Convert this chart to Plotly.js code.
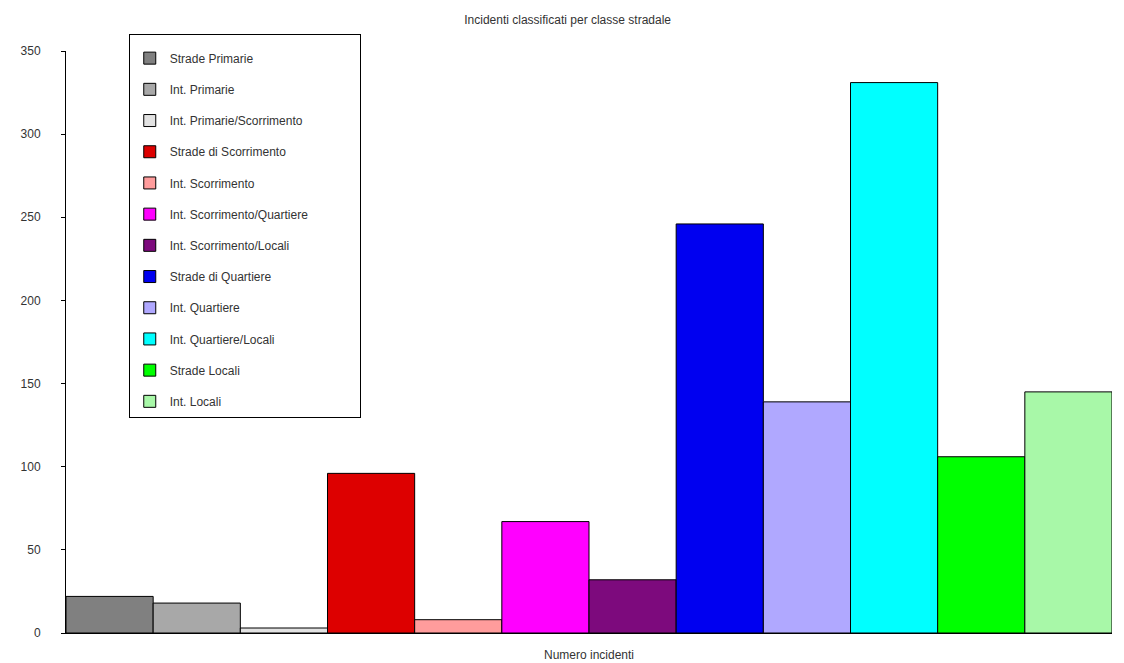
<!DOCTYPE html>
<html>
<head>
<meta charset="utf-8">
<script src="https://cdn.plot.ly/plotly-3.0.1.min.js"></script>
<style>
  html, body { margin: 0; padding: 0; background: #fff; }
  #chart { width: 1124px; height: 663px; }
</style>
</head>
<body>
<div id="chart"></div>
<script>
// Road classes, in drawing order
const categories = [
  'Strade Primarie',
  'Int. Primarie',
  'Int. Primarie/Scorrimento',
  'Strade di Scorrimento',
  'Int. Scorrimento',
  'Int. Scorrimento/Quartiere',
  'Int. Scorrimento/Locali',
  'Strade di Quartiere',
  'Int. Quartiere',
  'Int. Quartiere/Locali',
  'Strade Locali',
  'Int. Locali'
];

// Number of accidents per road class
const incidenti = [22, 18, 3, 96, 8, 67, 32, 246, 139, 331, 106, 145];

// Fill colour per road class
const colori = [
  '#808080', '#a8a8a8', '#e2e2e2', '#dd0000',
  '#ff9c9c', '#ff00ff', '#7d0a7d', '#0000f0',
  '#b0a8ff', '#00ffff', '#00ff00', '#a8f8a8'
];

const yTicks = [0, 50, 100, 150, 200, 250, 300, 350];

const FONT = 'Liberation Sans, Arial, sans-serif';
const TEXT = '#333333';

// Blank legend heading: only pads the legend box (top space and width)
const legendPad = '\u00a0'.repeat(116);

// One trace per class so each gets its own legend entry
const traces = categories.map((name, i) => ({
  type: 'bar',
  name: name,
  x: [name],
  y: [incidenti[i]],
  width: [1],
  legendgroup: 'g' + i,
  marker: { color: colori[i], line: { color: '#000000', width: 1 } },
  hoverinfo: 'name+y'
}));

const layout = {
  width: 1124,
  height: 663,
  margin: { l: 66, r: 12, t: 51, b: 30 },
  paper_bgcolor: '#ffffff',
  plot_bgcolor: '#ffffff',
  barmode: 'overlay',
  bargap: 0,
  showlegend: true,
  font: { family: FONT, size: 12, color: TEXT },
  title: {
    text: 'Incidenti classificati per classe stradale',
    font: { family: FONT, size: 12, color: TEXT },
    x: 0.505, xanchor: 'center',
    y: 0.97, yanchor: 'middle', yref: 'container'
  },
  xaxis: {
    type: 'category',
    categoryorder: 'array',
    categoryarray: categories,
    range: [-0.5, categories.length - 0.5],
    showticklabels: false,
    ticks: '',
    showgrid: false,
    zeroline: false,
    showline: true,
    linecolor: '#000000',
    linewidth: 1,
    fixedrange: true,
    title: {
      text: 'Numero incidenti',
      font: { family: FONT, size: 12, color: TEXT },
      standoff: 17
    }
  },
  yaxis: {
    range: [0, 350],
    tickvals: yTicks,
    ticktext: yTicks.map(String),
    ticks: 'outside',
    ticklen: 4,
    tickcolor: '#000000',
    ticklabelstandoff: 18,
    tickfont: { family: FONT, size: 12, color: TEXT },
    showgrid: false,
    zeroline: false,
    showline: true,
    linecolor: '#000000',
    linewidth: 1,
    fixedrange: true
  },
  legend: {
    x: 0.06, xanchor: 'left',
    y: 1.03, yanchor: 'top',
    bgcolor: '#ffffff',
    bordercolor: '#000000',
    borderwidth: 1,
    traceorder: 'grouped',
    tracegroupgap: 12.2,
    itemwidth: 30,
    maxheight: 1,
    title: { text: legendPad, font: { family: FONT, size: 7 } },
    font: { family: FONT, size: 12, color: TEXT }
  }
};

Plotly.newPlot('chart', traces, layout, { displayModeBar: false, staticPlot: true });
</script>
</body>
</html>
